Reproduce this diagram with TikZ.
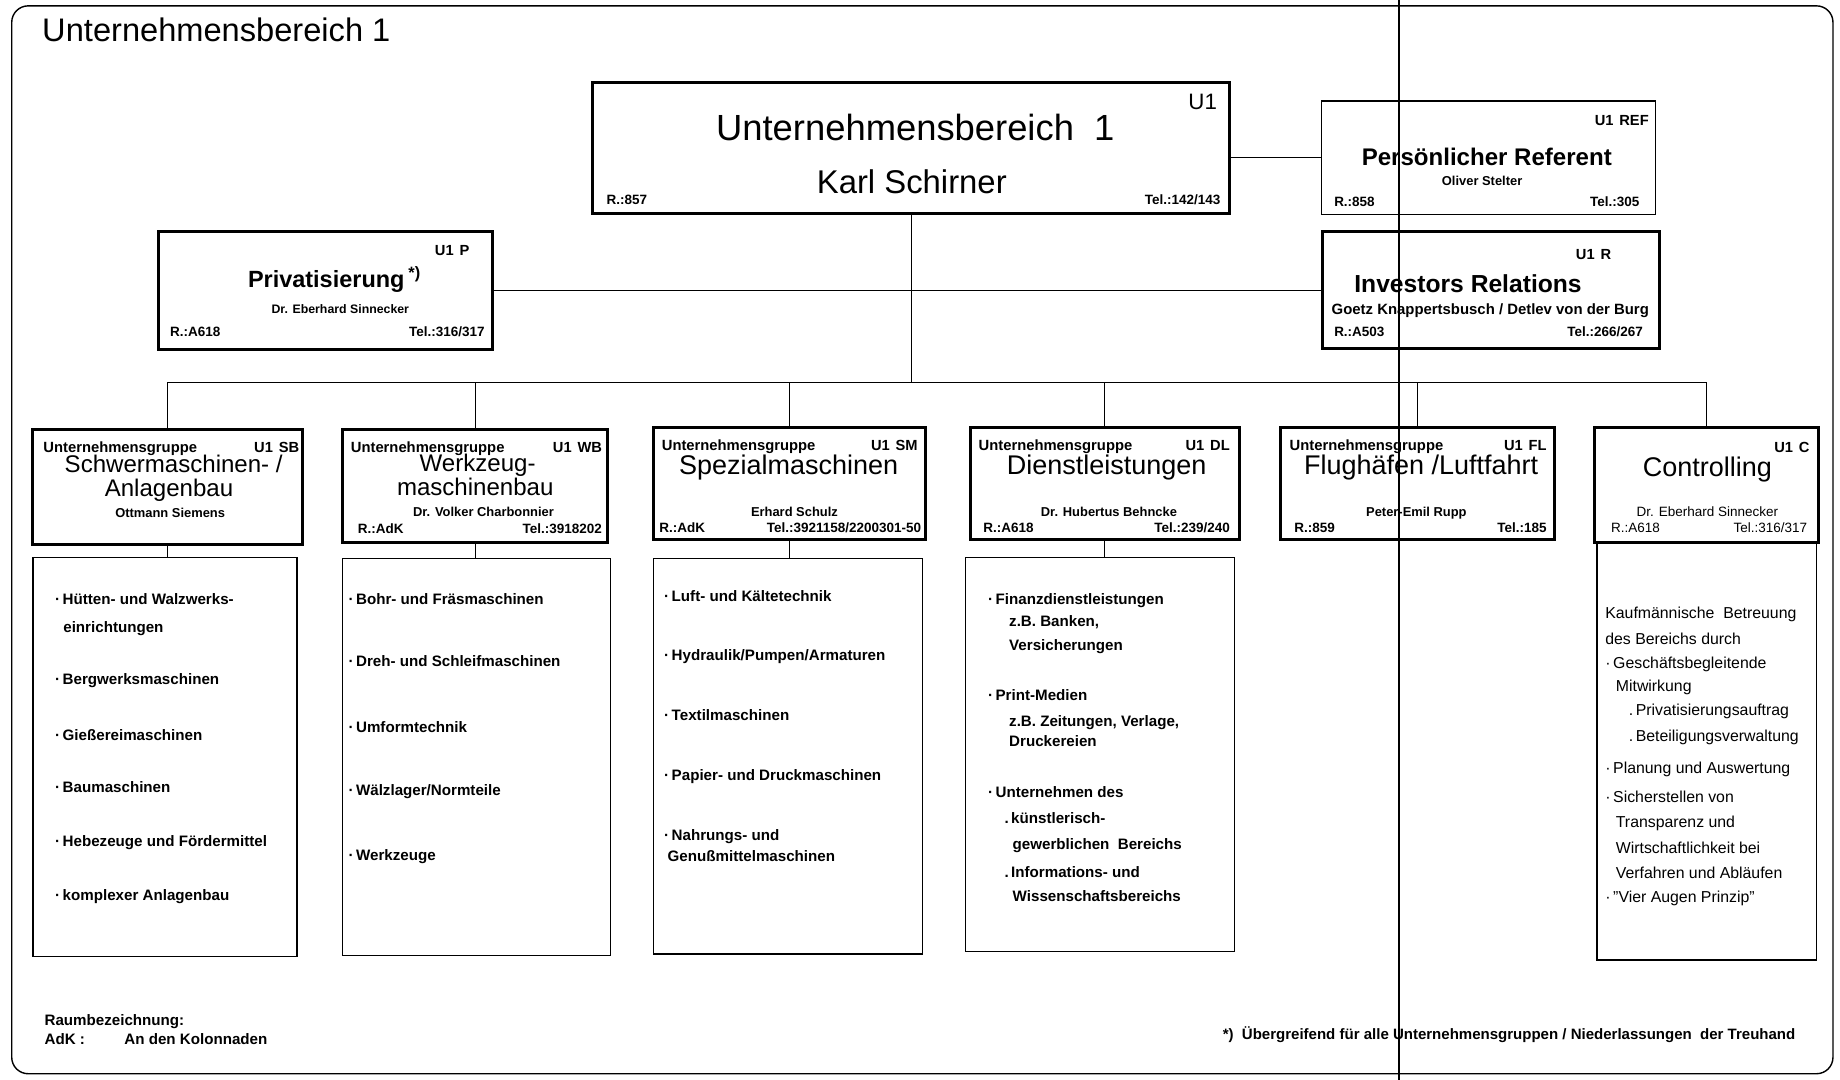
\documentclass[tikz,border=0pt]{standalone}
\usepackage{fontspec}
\setmainfont{Liberation Sans}
\newcommand\fsz[1]{\fontsize{#1}{#1}\selectfont}
\tikzset{
  ocheavy/.style={draw, line width=2.6pt, inner sep=0pt},
  oclight/.style={draw, line width=1.1pt, inner sep=0pt},
  ocwire/.style={line width=1.1pt},
  octx/.style={inner sep=0pt, outer sep=0pt},
  occode/.style={octx, font=\fsz{12.5}\bfseries, anchor=base east},
  ocrl/.style={octx, font=\fsz{11.5}\bfseries, anchor=base west},
  ocrr/.style={octx, font=\fsz{11.5}\bfseries, anchor=base east},
  ocperson/.style={octx, font=\fsz{11}\bfseries, anchor=base},
  ocgrp/.style={octx, font=\fsz{12.6}\bfseries, anchor=base west},
  ochead/.style={octx, font=\fsz{23}, anchor=base},
  ochead2/.style={octx, font=\fsz{20.5}, anchor=base},
  ocentry/.style={octx, font=\fsz{12.9}\bfseries, anchor=base west},
  ocnote/.style={octx, font=\fsz{13.5}, anchor=base west},
}
% box from corner (x1,y1) to corner (x2,y2)
\newcommand\boxat[6]{\node[#1, minimum width={(#5)-(#3)}, minimum height={(#6)-(#4)}] (#2) at ({((#3)+(#5))/2},{((#4)+(#6))/2}) {};}
\begin{document}
\begin{tikzpicture}[x=1pt, y=-1pt]
\useasboundingbox (0,0) rectangle (1568,920);
\fill[white] (0,0) rectangle (1568,920);
% outer frame
\draw[line width=1.2pt, rounded corners=14pt] (10,5) rectangle (1562,915);
\node[octx, font=\fsz{27.8}, anchor=base west] (title) at (36,35) {Unternehmensbereich 1};

% upper boxes
\boxat{ocheavy}{u1}{505}{70}{1048}{182}
\boxat{oclight}{ref}{1126}{86}{1411}{183}
\boxat{ocheavy}{ir}{1127}{197}{1414}{297}
\boxat{ocheavy}{priv}{135}{197}{420}{298}

% group boxes
\boxat{ocheavy}{sb}{28}{366}{258}{464}
\boxat{ocheavy}{wb}{292}{366}{518}{462}
\boxat{ocheavy}{sm}{557}{364}{789}{460}
\boxat{ocheavy}{dl}{827}{364}{1056}{460}
\boxat{ocheavy}{fl}{1091}{364}{1325}{460}
\boxat{ocheavy}{co}{1359}{364}{1550}{462}

% detail boxes
\boxat{oclight}{sbd}{28}{475}{253}{815}
\boxat{oclight}{wbd}{292}{476}{520}{814}
\boxat{oclight}{smd}{557}{476}{786}{813}
\boxat{oclight}{dld}{823}{475}{1052}{811}
\boxat{oclight}{cod}{1361}{462}{1548}{818}

% connectors
\coordinate (bus) at (776.5,326);
\draw[ocwire] (u1.south) -- (bus);
\draw[ocwire] (ref.west) -- (ref.west -| u1.east);
\draw[ocwire] (priv.east) -- (priv.east -| ir.west);
\draw[ocwire] (sb.north) -- (sb.north |- bus) -- (co.north |- bus) -- (co.north);
\foreach \g in {wb,sm,dl,fl} \draw[ocwire] (\g.north) -- (\g.north |- bus);
\foreach \g in {sb,wb,sm,dl} \draw[ocwire] (\g.south) -- (\g.south |- \g d.north);

% U1
\node[octx, font=\fsz{19}, anchor=base east] (u1-code) at (1037,93) {U1};
\node[octx, font=\fsz{31}, anchor=base] (u1-head) at (780,120) {Unternehmensbereich\ \ 1};
\node[octx, font=\fsz{28}, anchor=base] (u1-name) at (777,165) {Karl Schirner};
\node[ocrl] (u1-room) at (517,174) {R.:857};
\node[ocrr] (u1-tel) at (1040,174) {Tel.:142/143};

% Persoenlicher Referent
\node[occode] (ref-code) at (1405,107) {U1\hspace{0.4em}REF};
\node[octx, font=\fsz{20.5}\bfseries, anchor=base] (ref-head) at (1267,141) {Persönlicher Referent};
\node[ocperson] (ref-name) at (1263,158) {Oliver Stelter};
\node[ocrl] (ref-room) at (1137,176) {R.:858};
\node[ocrr] (ref-tel) at (1397,176) {Tel.:305};

% Investors Relations
\node[occode] (ir-code) at (1373,221) {U1\hspace{0.4em}R};
\node[octx, font=\fsz{21}\bfseries, anchor=base] (ir-head) at (1251,249) {Investors Relations};
\node[octx, font=\fsz{12.7}\bfseries, anchor=base] (ir-name) at (1270,268) {Goetz Knappertsbusch / Detlev von der Burg};
\node[ocrl] (ir-room) at (1137,287) {R.:A503};
\node[ocrr] (ir-tel) at (1400,287) {Tel.:266/267};

% Privatisierung
\node[occode] (priv-code) at (400,218) {U1\hspace{0.4em}P};
\node[octx, font=\fsz{20}\bfseries, anchor=base] (priv-head) at (285,245) {Privatisierung\,\textsuperscript{*)}};
\node[octx, font=\fsz{10.5}\bfseries, anchor=base] (priv-name) at (290,267) {Dr. Eberhard Sinnecker};
\node[ocrl] (priv-room) at (145,287) {R.:A618};
\node[ocrr] (priv-tel) at (413,287) {Tel.:316/317};

% Schwermaschinen
\node[ocgrp] (sb-grp) at (37,386) {Unternehmensgruppe};
\node[occode] (sb-code) at (255,386) {U1\hspace{0.4em}SB};
\node[ochead2] (sb-head1) at (148,403) {Schwermaschinen- /};
\node[ochead2] (sb-head2) at (144,423) {Anlagenbau};
\node[ocperson] (sb-name) at (145,441) {Ottmann Siemens};

% Werkzeugmaschinenbau
\node[ocgrp] (wb-grp) at (299,386) {Unternehmensgruppe};
\node[occode] (wb-code) at (513,386) {U1\hspace{0.4em}WB};
\node[ochead2] (wb-head1) at (407,402) {Werkzeug-};
\node[ochead2] (wb-head2) at (405,422) {maschinenbau};
\node[ocperson] (wb-name) at (412,440) {Dr. Volker Charbonnier};
\node[ocrl] (wb-room) at (305,455) {R.:AdK};
\node[ocrr] (wb-tel) at (513,455) {Tel.:3918202};

% Spezialmaschinen
\node[ocgrp] (sm-grp) at (564,384) {Unternehmensgruppe};
\node[occode] (sm-code) at (782,384) {U1\hspace{0.4em}SM};
\node[ochead] (sm-head) at (672,404) {Spezialmaschinen};
\node[ocperson] (sm-name) at (677,440) {Erhard Schulz};
\node[ocrl] (sm-room) at (562,454) {R.:AdK};
\node[ocrr] (sm-tel) at (785,454) {Tel.:3921158/2200301-50};

% Dienstleistungen
\node[ocgrp] (dl-grp) at (834,384) {Unternehmensgruppe};
\node[occode] (dl-code) at (1048,384) {U1\hspace{0.4em}DL};
\node[ochead] (dl-head) at (943,404) {Dienstleistungen};
\node[ocperson] (dl-name) at (945,440) {Dr. Hubertus Behncke};
\node[ocrl] (dl-room) at (838,454) {R.:A618};
\node[ocrr] (dl-tel) at (1048,454) {Tel.:239/240};

% Flughaefen / Luftfahrt
\node[ocgrp] (fl-grp) at (1099,384) {Unternehmensgruppe};
\node[occode] (fl-code) at (1318,384) {U1\hspace{0.4em}FL};
\node[ochead] (fl-head) at (1211,404) {Flughäfen /Luftfahrt};
\node[ocperson] (fl-name) at (1207,440) {Peter-Emil Rupp};
\node[ocrl] (fl-room) at (1103,454) {R.:859};
\node[ocrr] (fl-tel) at (1318,454) {Tel.:185};

% Controlling
\node[occode] (co-code) at (1542,386) {U1\hspace{0.4em}C};
\node[ochead] (co-head) at (1455,406) {Controlling};
\node[octx, font=\fsz{11.5}, anchor=base] (co-name) at (1455,440) {Dr. Eberhard Sinnecker};
\node[octx, font=\fsz{11.5}, anchor=base west] (co-room) at (1373,454) {R.:A618};
\node[octx, font=\fsz{11.5}, anchor=base east] (co-tel) at (1540,454) {Tel.:316/317};

% task lists
\node[ocentry] (sb-1) at (47,515) {·\,Hütten- und Walzwerks-};
\node[ocentry] (sb-2) at (54,539) {einrichtungen};
\node[ocentry] (sb-3) at (47,583) {·\,Bergwerksmaschinen};
\node[ocentry] (sb-4) at (47,631) {·\,Gießereimaschinen};
\node[ocentry] (sb-5) at (47,675) {·\,Baumaschinen};
\node[ocentry] (sb-6) at (47,721) {·\,Hebezeuge und Fördermittel};
\node[ocentry] (sb-7) at (47,767) {·\,komplexer Anlagenbau};

\node[ocentry] (wb-1) at (297,515) {·\,Bohr- und Fräsmaschinen};
\node[ocentry] (wb-2) at (297,568) {·\,Dreh- und Schleifmaschinen};
\node[ocentry] (wb-3) at (297,624) {·\,Umformtechnik};
\node[ocentry] (wb-4) at (297,678) {·\,Wälzlager/Normteile};
\node[ocentry] (wb-5) at (297,733) {·\,Werkzeuge};

\node[ocentry] (sm-1) at (566,513) {·\,Luft- und Kältetechnik};
\node[ocentry] (sm-2) at (566,563) {·\,Hydraulik/Pumpen/Armaturen};
\node[ocentry] (sm-3) at (566,614) {·\,Textilmaschinen};
\node[ocentry] (sm-4) at (566,665) {·\,Papier- und Druckmaschinen};
\node[ocentry] (sm-5) at (566,716) {·\,Nahrungs- und};
\node[ocentry] (sm-6) at (569,734) {Genußmittelmaschinen};

\node[ocentry] (dl-1) at (842,515) {·\,Finanzdienstleistungen};
\node[ocentry] (dl-2) at (860,534) {z.B. Banken,};
\node[ocentry] (dl-3) at (860,554) {Versicherungen};
\node[ocentry] (dl-4) at (842,597) {·\,Print-Medien};
\node[ocentry] (dl-5) at (860,619) {z.B. Zeitungen, Verlage,};
\node[ocentry] (dl-6) at (860,636) {Druckereien};
\node[ocentry] (dl-7) at (842,680) {·\,Unternehmen des};
\node[ocentry] (dl-8) at (856,702) {.\,künstlerisch-};
\node[ocentry] (dl-9) at (863,724) {gewerblichen\ \ Bereichs};
\node[ocentry] (dl-10) at (856,748) {.\,Informations- und};
\node[ocentry] (dl-11) at (863,768) {Wissenschaftsbereichs};

\node[ocnote] (co-1) at (1368,527) {Kaufmännische\ \ Betreuung};
\node[ocnote] (co-2) at (1368,549) {des Bereichs durch};
\node[ocnote] (co-3) at (1368,570) {·\,Geschäftsbegleitende};
\node[ocnote] (co-4) at (1377,589) {Mitwirkung};
\node[ocnote] (co-5) at (1388,610) {.\,Privatisierungsauftrag};
\node[ocnote] (co-6) at (1388,632) {.\,Beteiligungsverwaltung};
\node[ocnote] (co-7) at (1368,659) {·\,Planung und Auswertung};
\node[ocnote] (co-8) at (1368,684) {·\,Sicherstellen von};
\node[ocnote] (co-9) at (1377,705) {Transparenz und};
\node[ocnote] (co-10) at (1377,727) {Wirtschaftlichkeit bei};
\node[ocnote] (co-11) at (1377,749) {Verfahren und Abläufen};
\node[ocnote] (co-12) at (1368,769) {·\,"Vier Augen Prinzip"};

% footnotes
\node[octx, font=\fsz{12.9}\bfseries, anchor=base west] (room-hd) at (38,874) {Raumbezeichnung:};
\node[octx, font=\fsz{12.9}\bfseries, anchor=base west] (room-key) at (38,890) {AdK :};
\node[octx, font=\fsz{12.9}\bfseries, anchor=base west] (room-val) at (106,890) {An den Kolonnaden};
\node[octx, font=\fsz{12.8}\bfseries, anchor=base west] (star) at (1042,886) {*)\ \ Übergreifend für alle Unternehmensgruppen / Niederlassungen\ \ der Treuhand};

% fold line across the sheet
\draw[line width=1.6pt] (1192,0) -- (1192,920);
\end{tikzpicture}
\end{document}
